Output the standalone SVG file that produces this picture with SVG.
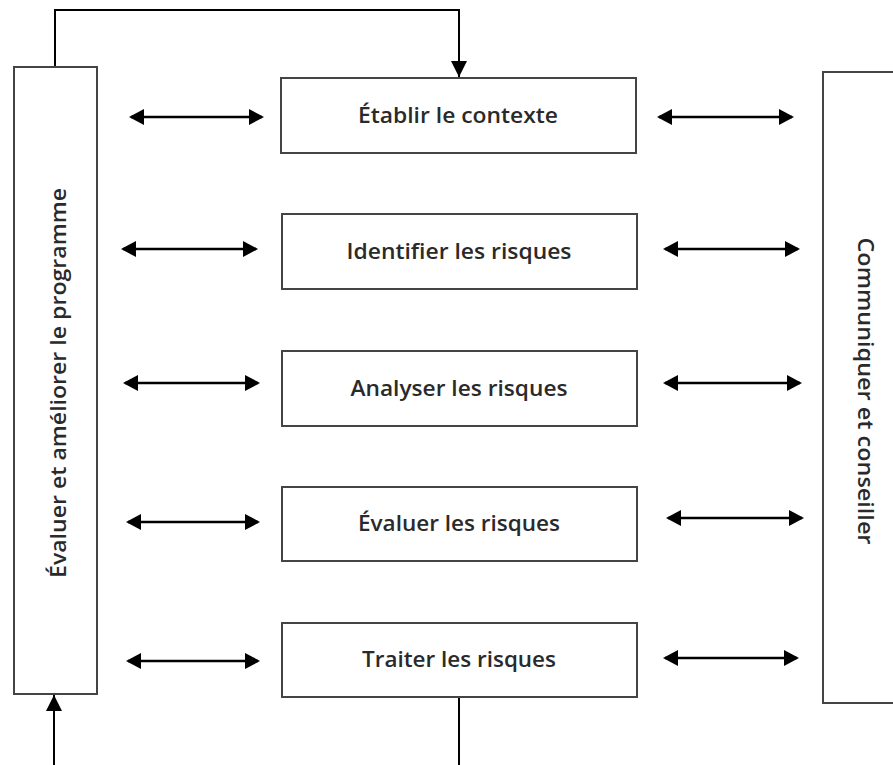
<svg xmlns="http://www.w3.org/2000/svg" width="893" height="765" viewBox="0 0 893 765">
<style>
.box{fill:#fff;stroke:#444;stroke-width:2}
.lbl{font-family:"Open Sans","Liberation Sans",sans-serif;font-weight:600;font-size:21px;fill:#2a2a2a;text-anchor:middle}
.conn{stroke:#000;stroke-width:2.5;fill:none}
.line{stroke:#000;stroke-width:2;fill:none}
</style>
<defs>
<marker id="ah" markerWidth="15" markerHeight="16" refX="13" refY="8" orient="auto-start-reverse" markerUnits="userSpaceOnUse">
<path d="M0,0 L15,8 L0,16 Z" fill="#000"/>
</marker>
<marker id="ah2" markerWidth="16" markerHeight="20" refX="16" refY="10" orient="auto" markerUnits="userSpaceOnUse">
<path d="M0,2 L16,10 L0,18 Z" fill="#000"/>
</marker>
</defs>
<g id="connectors">
<polyline class="line" points="55,67 55,10 459,10 459,77" marker-end="url(#ah2)"/>
<line class="line" x1="459" y1="697" x2="459" y2="765"/>
<line class="line" x1="54" y1="765" x2="54" y2="695" marker-end="url(#ah2)"/>
<line class="conn" x1="131" y1="117" x2="262" y2="117" marker-start="url(#ah)" marker-end="url(#ah)"/>
<line class="conn" x1="659" y1="117" x2="792" y2="117" marker-start="url(#ah)" marker-end="url(#ah)"/>
<line class="conn" x1="123" y1="249" x2="256" y2="249" marker-start="url(#ah)" marker-end="url(#ah)"/>
<line class="conn" x1="665" y1="249" x2="798" y2="249" marker-start="url(#ah)" marker-end="url(#ah)"/>
<line class="conn" x1="125" y1="383" x2="258" y2="383" marker-start="url(#ah)" marker-end="url(#ah)"/>
<line class="conn" x1="665" y1="383" x2="800" y2="383" marker-start="url(#ah)" marker-end="url(#ah)"/>
<line class="conn" x1="128" y1="522" x2="258" y2="522" marker-start="url(#ah)" marker-end="url(#ah)"/>
<line class="conn" x1="668" y1="518" x2="802" y2="518" marker-start="url(#ah)" marker-end="url(#ah)"/>
<line class="conn" x1="128" y1="661" x2="258" y2="661" marker-start="url(#ah)" marker-end="url(#ah)"/>
<line class="conn" x1="665" y1="658" x2="797" y2="658" marker-start="url(#ah)" marker-end="url(#ah)"/>
</g>
<g id="evaluer-programme">
<rect class="box" x="14" y="67" width="83" height="627"/>
<text class="lbl" transform="translate(66,383) rotate(-90)" textLength="390" lengthAdjust="spacingAndGlyphs">Évaluer et améliorer le programme</text>
</g>
<g id="communiquer">
<rect class="box" x="823" y="72" width="80" height="631"/>
<text class="lbl" transform="translate(858,391) rotate(90)" textLength="307" lengthAdjust="spacingAndGlyphs">Communiquer et conseiller</text>
</g>
<g id="etablir">
<rect class="box" x="281" y="78" width="355" height="75"/>
<text class="lbl" x="458" y="123" textLength="200" lengthAdjust="spacingAndGlyphs">Établir le contexte</text>
</g>
<g id="identifier">
<rect class="box" x="282" y="214" width="355" height="75"/>
<text class="lbl" x="459" y="259" textLength="225" lengthAdjust="spacingAndGlyphs">Identifier les risques</text>
</g>
<g id="analyser">
<rect class="box" x="282" y="351" width="355" height="75"/>
<text class="lbl" x="459" y="396" textLength="217" lengthAdjust="spacingAndGlyphs">Analyser les risques</text>
</g>
<g id="evaluer">
<rect class="box" x="282" y="487" width="355" height="74"/>
<text class="lbl" x="459" y="531" textLength="202" lengthAdjust="spacingAndGlyphs">Évaluer les risques</text>
</g>
<g id="traiter">
<rect class="box" x="282" y="623" width="355" height="74"/>
<text class="lbl" x="459" y="667" textLength="194" lengthAdjust="spacingAndGlyphs">Traiter les risques</text>
</g>
</svg>
